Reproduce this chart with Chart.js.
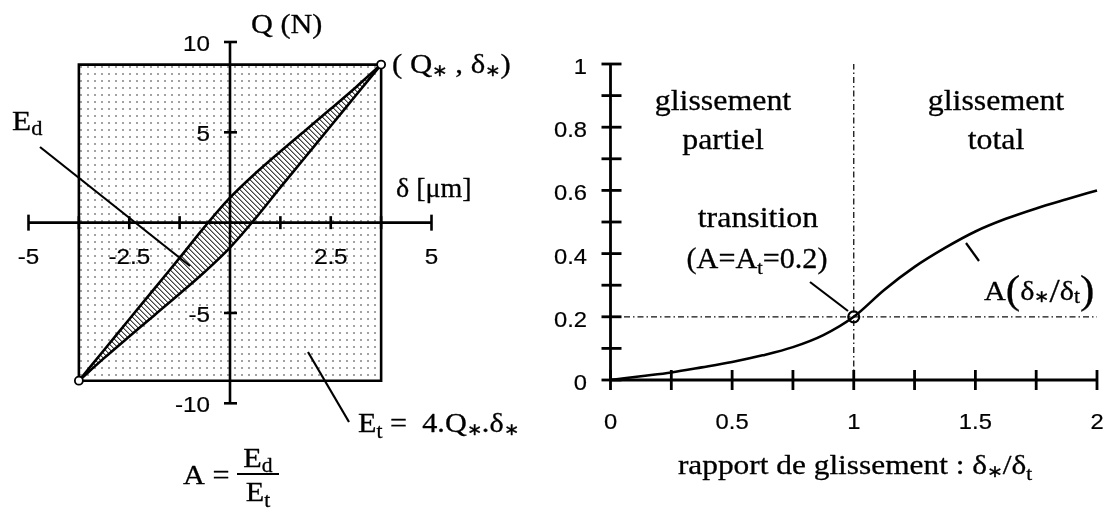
<!DOCTYPE html>
<html><head><meta charset="utf-8">
<script src="https://cdn.jsdelivr.net/npm/chart.js@4.4.1/dist/chart.umd.min.js"></script>
<style>
html,body{margin:0;padding:0;background:#fff;}
#wrap{position:relative;width:1106px;height:511px;overflow:hidden;background:#fff;}
canvas{position:absolute;left:0;top:0;}
</style></head><body>
<div id="wrap"><canvas id="leftChart" width="1106" height="511"></canvas><canvas id="rightChart" width="1106" height="511"></canvas></div>
<script>
// ---------- LEFT PANEL DATA (hysteresis loop Q vs delta) ----------
const loopDelta  = [-3.75, -3.125, -2.5, -1.875, -1.25, -0.625, 0, 0.625, 1.25, 1.875, 2.5, 3.125, 3.75];
const loopUpperQ = [-8.75, -7.05, -5.35, -3.65, -1.95, -0.22, 1.38, 2.72, 3.94, 5.12, 6.3, 7.5, 8.75];
const loopLowerQ = [-8.75, -7.5, -6.3, -5.12, -3.94, -2.72, -1.38, 0.22, 1.95, 3.65, 5.35, 7.05, 8.75];
const deltaStar = [3.75];
const qStar = [8.75];
const leftXTickValues = [-5, -3.75, -2.5, -1.25, 1.25, 2.5, 3.75, 5];
const leftXTickLabels = ['-5', '', '-2.5', '', '', '2.5', '', '5'];
const leftYTickValues = [-10, -5, 5, 10];
const leftYTickLabels = ['-10', '-5', '5', '10'];

// ---------- RIGHT PANEL DATA (A vs slip ratio) ----------
const slipRatio    = [0, 0.125, 0.25, 0.375, 0.5, 0.625, 0.75, 0.875, 1, 1.125, 1.25, 1.375, 1.5, 1.625, 1.75, 1.875, 2];
const dissipationA = [0, 0.012, 0.024, 0.04, 0.057, 0.078, 0.104, 0.142, 0.2, 0.285, 0.358, 0.418, 0.47, 0.51, 0.543, 0.572, 0.6];
const transitionX = [1];
const transitionA = [0.2];
const rightXTickValues = [0, 0.25, 0.5, 0.75, 1, 1.25, 1.5, 1.75, 2];
const rightXTickLabels = ['0', '', '0.5', '', '1', '', '1.5', '', '2'];
const rightYTickValues = [0, 0.1, 0.2, 0.3, 0.4, 0.5, 0.6, 0.7, 0.8, 0.9, 1];
const rightYTickLabels = ['0', '', '0.2', '', '0.4', '', '0.6', '', '0.8', '', '1'];

// ---------- helpers ----------
const SERIF = '"Liberation Serif", "Times New Roman", Times, serif';
const SANS = '"Liberation Sans", Arial, Helvetica, sans-serif';
const sr = s => s + 'px ' + SERIF;
const ss = s => s + 'px ' + SANS;

function drawRuns(ctx, x, y, runs, align, sx, bold) {
  align = align || 'left'; sx = sx || 1.12;
  let total = 0; const widths = [];
  for (const r of runs) { ctx.font = r.f; const w = ctx.measureText(r.t).width; widths.push(w); total += w; }
  let start = x;
  if (align === 'center') start = x - total * sx / 2;
  else if (align === 'right') start = x - total * sx;
  ctx.save();
  ctx.translate(start, y); ctx.scale(sx, 1);
  ctx.textBaseline = 'alphabetic'; ctx.textAlign = 'left';
  ctx.fillStyle = '#000'; ctx.strokeStyle = '#000'; ctx.lineWidth = bold === undefined ? 0.3 : bold;
  ctx.lineJoin = 'round';
  let cx = 0;
  runs.forEach((r, i) => {
    ctx.font = r.f; ctx.fillText(r.t, cx, r.dy || 0);
    if (ctx.lineWidth > 0) ctx.strokeText(r.t, cx, r.dy || 0);
    cx += widths[i];
  });
  ctx.restore();
}
function seg(ctx, x1, y1, x2, y2) { ctx.beginPath(); ctx.moveTo(x1, y1); ctx.lineTo(x2, y2); ctx.stroke(); }

function dotPattern() {
  const c = document.createElement('canvas'); c.width = 7; c.height = 7;
  const g = c.getContext('2d');
  g.fillStyle = '#fff'; g.fillRect(0, 0, 7, 7);
  g.fillStyle = '#a2a2a2'; g.fillRect(3, 3, 2, 2);
  return g.createPattern(c, 'repeat');
}
function hatchPattern() {
  const s = 5;
  const c = document.createElement('canvas'); c.width = s; c.height = s;
  const g = c.getContext('2d');
  g.fillStyle = '#fff'; g.fillRect(0, 0, s, s);
  g.fillStyle = '#444';
  for (let i = 0; i < s; i++) g.fillRect(i, i, 1, 1);
  g.fillStyle = '#9a9a9a';
  for (let i = 0; i < s; i++) g.fillRect((i + 1) % s, i, 1, 1);
  return g.createPattern(c, 'repeat');
}

const pts = (xs, ys) => xs.map((v, i) => ({ x: v, y: ys[i] }));
const ds = deltaStar[0], qs = qStar[0];

// ---------- LEFT CHART ----------
const leftDecor = {
  id: 'leftDecor',
  afterDatasetsDraw(chart) {
    const { ctx, scales: { x, y } } = chart;
    const x0 = x.getPixelForValue(0), y0 = y.getPixelForValue(0);
    ctx.save();
    ctx.strokeStyle = '#000'; ctx.lineWidth = 2.6; ctx.lineCap = 'butt';
    seg(ctx, x.getPixelForValue(-5), y0, x.getPixelForValue(5), y0);
    seg(ctx, x0, y.getPixelForValue(10), x0, y.getPixelForValue(-10));
    leftXTickValues.forEach(v => {
      const px = x.getPixelForValue(v);
      const h = Math.abs(v) === 5 ? 8 : 6.5;
      seg(ctx, px, y0 - h, px, y0 + h);
    });
    leftYTickValues.forEach(v => {
      const py = y.getPixelForValue(v);
      seg(ctx, x0 - 6, py, x0 + 7, py);
    });
    // tick labels
    leftXTickValues.forEach((v, i) => {
      if (!leftXTickLabels[i]) return;
      drawRuns(ctx, x.getPixelForValue(v), y0 + 41, [{ t: leftXTickLabels[i], f: ss(22) }], 'center', 1.1, 0.2);
    });
    leftYTickValues.forEach((v, i) => {
      drawRuns(ctx, 210, y.getPixelForValue(v) + 9, [{ t: leftYTickLabels[i], f: ss(22) }], 'right', 1.1, 0.2);
    });
    // pointer lines
    ctx.lineWidth = 2.2;
    seg(ctx, 40, 147, 190, 266);
    seg(ctx, 308, 352, 349, 422);
    // annotation texts
    drawRuns(ctx, 251, 33, [{ t: 'Q (N)', f: sr(28) }], 'left', 1.08);
    drawRuns(ctx, 392, 73, [
      { t: '( Q', f: sr(28) }, { t: '\u2217', f: sr(17), dy: 3 },
      { t: ' , \u03B4', f: sr(28) }, { t: '\u2217', f: sr(17), dy: 3 }, { t: ')', f: sr(28) }], 'left', 1.1);
    drawRuns(ctx, 396, 197, [{ t: '\u03B4 [\u03BCm]', f: sr(28) }], 'left', 1.0);
    drawRuns(ctx, 12, 130, [{ t: 'E', f: sr(28) }, { t: 'd', f: sr(20), dy: 5 }], 'left', 1.12);
    drawRuns(ctx, 358, 432, [
      { t: 'E', f: sr(28) }, { t: 't', f: sr(20), dy: 6 }, { t: ' =  4.Q', f: sr(28) },
      { t: '\u2217', f: sr(17), dy: 3 }, { t: '.\u03B4', f: sr(28) }, { t: '\u2217', f: sr(17), dy: 3 }], 'left', 1.08);
    // A = Ed / Et
    drawRuns(ctx, 183, 484, [{ t: 'A =', f: sr(28) }], 'left', 1.08);
    ctx.lineWidth = 2; seg(ctx, 237, 474, 279, 474);
    drawRuns(ctx, 258, 467, [{ t: 'E', f: sr(28) }, { t: 'd', f: sr(20), dy: 5 }], 'center', 1.08);
    drawRuns(ctx, 258, 501, [{ t: 'E', f: sr(28) }, { t: 't', f: sr(20), dy: 6 }], 'center', 1.08);
    ctx.restore();
  }
};

new Chart(document.getElementById('leftChart'), {
  type: 'scatter',
  data: {
    datasets: [
      { // endpoint circles
        data: [{ x: -ds, y: -qs }, { x: ds, y: qs }],
        showLine: false, pointRadius: 4, pointBackgroundColor: '#fff',
        pointBorderColor: '#000', pointBorderWidth: 1.8, order: 1, clip: false
      },
      { // loop upper branch, filled to lower
        data: pts(loopDelta, loopUpperQ), showLine: true, borderColor: '#000', borderWidth: 2.6,
        pointRadius: 0, tension: 0.35, fill: '+1',
        backgroundColor: hatchPattern(), order: 3, clip: false
      },
      { // loop lower branch
        data: pts(loopDelta, loopLowerQ), showLine: true, borderColor: '#000', borderWidth: 2.6,
        pointRadius: 0, tension: 0.35, fill: false, order: 2, clip: false
      },
      { // box border
        data: [{ x: -ds, y: -qs }, { x: -ds, y: qs }, { x: ds, y: qs }, { x: ds, y: -qs }, { x: -ds, y: -qs }],
        showLine: true, borderColor: '#000', borderWidth: 2.6, pointRadius: 0, fill: false, order: 4, clip: false
      },
      { // box fill (total energy)
        data: [{ x: -ds, y: qs }, { x: ds, y: qs }], showLine: true, borderWidth: 0,
        borderColor: 'rgba(0,0,0,0)', pointRadius: 0, fill: { value: -qs },
        backgroundColor: dotPattern(), order: 5, clip: false
      }
    ]
  },
  options: {
    responsive: false, animation: false, events: [],
    layout: { padding: { left: 28.5, right: 674.5, top: 42, bottom: 107.7 } },
    scales: {
      x: { type: 'linear', min: -5, max: 5, display: false },
      y: { type: 'linear', min: -10, max: 10, display: false }
    },
    plugins: { legend: { display: false }, tooltip: { enabled: false } }
  },
  plugins: [leftDecor]
});

// ---------- RIGHT CHART ----------
const rightDecor = {
  id: 'rightDecor',
  afterDatasetsDraw(chart) {
    const { ctx, scales: { x, y } } = chart;
    const x0 = x.getPixelForValue(0), y0 = y.getPixelForValue(0);
    ctx.save();
    ctx.strokeStyle = '#000'; ctx.lineWidth = 2.8; ctx.lineCap = 'butt';
    seg(ctx, x0, y0, x.getPixelForValue(2), y0);
    seg(ctx, x0, y0, x0, y.getPixelForValue(1));
    rightXTickValues.forEach(v => { const px = x.getPixelForValue(v); seg(ctx, px, y0 - 10, px, y0 + 10); });
    rightYTickValues.forEach(v => { const py = y.getPixelForValue(v); seg(ctx, x0 - 9, py, x0 + 11, py); });
    rightXTickValues.forEach((v, i) => {
      if (!rightXTickLabels[i]) return;
      drawRuns(ctx, x.getPixelForValue(v), y0 + 49, [{ t: rightXTickLabels[i], f: ss(22) }], 'center', 1.08, 0.2);
    });
    rightYTickValues.forEach((v, i) => {
      if (!rightYTickLabels[i]) return;
      drawRuns(ctx, 587, y.getPixelForValue(v) + 10, [{ t: rightYTickLabels[i], f: ss(22) }], 'right', 1.08, 0.2);
    });
    // pointer lines
    ctx.lineWidth = 2.2;
    seg(ctx, 810, 282, 848, 311);
    seg(ctx, 966, 243, 979, 261);
    // texts
    drawRuns(ctx, 723, 110, [{ t: 'glissement', f: sr(29) }], 'center', 1.1);
    drawRuns(ctx, 723, 149, [{ t: 'partiel', f: sr(29) }], 'center', 1.1);
    drawRuns(ctx, 996, 110, [{ t: 'glissement', f: sr(29) }], 'center', 1.1);
    drawRuns(ctx, 996, 149, [{ t: 'total', f: sr(29) }], 'center', 1.1);
    drawRuns(ctx, 758, 227, [{ t: 'transition', f: sr(29) }], 'center', 1.1);
    drawRuns(ctx, 757, 268, [{ t: '(A=A', f: sr(29) }, { t: 't', f: sr(19), dy: 6 }, { t: '=0.2)', f: sr(29) }], 'center', 1.04);
    drawRuns(ctx, 984, 300, [
      { t: 'A', f: sr(28) }, { t: '(', f: sr(40), dy: 3 }, { t: '\u03B4', f: sr(28) },
      { t: '\u2217', f: sr(17), dy: 2 }, { t: '/', f: sr(34), dy: 2 }, { t: '\u03B4', f: sr(28) },
      { t: 't', f: sr(20), dy: 3 }, { t: ')', f: sr(40), dy: 3 }], 'left', 1.08);
    drawRuns(ctx, 855, 474, [
      { t: 'rapport de glissement : \u03B4', f: sr(28) }, { t: '\u2217', f: sr(17), dy: 3 },
      { t: '/\u03B4', f: sr(28) }, { t: 't', f: sr(19), dy: 6 }], 'center', 1.12);
    ctx.restore();
  }
};

new Chart(document.getElementById('rightChart'), {
  type: 'scatter',
  data: {
    datasets: [
      { // transition marker
        data: pts(transitionX, transitionA), showLine: false, pointRadius: 5.5,
        pointBackgroundColor: 'rgba(0,0,0,0)', pointBorderColor: '#000', pointBorderWidth: 2.2, order: 1, clip: false
      },
      { // A curve
        data: pts(slipRatio, dissipationA), showLine: true, borderColor: '#000', borderWidth: 2.6,
        pointRadius: 0, cubicInterpolationMode: 'monotone', fill: false, order: 2, clip: false
      },
      { // horizontal dash-dot at A_t
        data: [{ x: slipRatio[0], y: transitionA[0] }, { x: slipRatio[slipRatio.length - 1], y: transitionA[0] }],
        showLine: true, borderColor: '#111', borderWidth: 1.3, borderDash: [6, 3, 1.5, 3],
        pointRadius: 0, fill: false, order: 3
      },
      { // vertical dash-dot at transition
        data: [{ x: transitionX[0], y: 0 }, { x: transitionX[0], y: 1 }],
        showLine: true, borderColor: '#111', borderWidth: 1.3, borderDash: [6, 3, 1.5, 3],
        pointRadius: 0, fill: false, order: 4
      }
    ]
  },
  options: {
    responsive: false, animation: false, events: [],
    layout: { padding: { left: 610.5, right: 9, top: 64, bottom: 131 } },
    scales: {
      x: { type: 'linear', min: 0, max: 2, display: false },
      y: { type: 'linear', min: 0, max: 1, display: false }
    },
    plugins: { legend: { display: false }, tooltip: { enabled: false } }
  },
  plugins: [rightDecor]
});
</script>
</body></html>
